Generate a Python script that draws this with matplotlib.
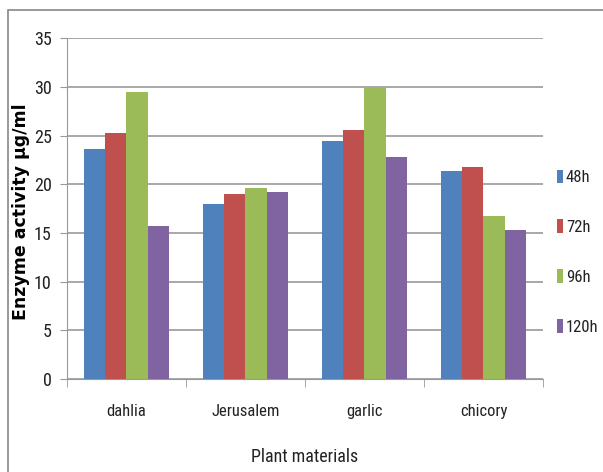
import numpy as np
import matplotlib.pyplot as plt
from matplotlib import font_manager
from matplotlib.font_manager import FontProperties
import matplotlib.patheffects as pe
from matplotlib.patches import Rectangle

# Data
plants = ['dahlia', 'Jerusalem', 'garlic', 'chicory']
series = ['48h', '72h', '96h', '120h']
v48 = [23.6, 18.0, 24.4, 21.4]
v72 = [25.3, 19.0, 25.6, 21.8]
v96 = [29.5, 19.6, 30.0, 16.7]
v120 = [15.7, 19.2, 22.8, 15.3]
colors = ['#4F81BD', '#C0504D', '#9BBB59', '#8064A2']

# pick a narrow font file to mimic the squeezed look
def rank(path):
    n = path.lower().split('/')[-1].replace('-', '').replace('_', '')
    order = ['liberationsansnarrowregular', 'robotocondensedregular',
             'opensanscondensedregular', 'notosanscondensed', 'dejavusanscondensed.ttf']
    for i, p in enumerate(order):
        if n.startswith(p):
            return i
    if any(s in n for s in ['light', 'thin']):
        return 50
    return 20

cands = [f for f in font_manager.findSystemFonts()
         if ('narrow' in f.lower() or 'condensed' in f.lower())
         and not any(s in f.lower().split('/')[-1] for s in ['bold', 'italic', 'oblique'])]
cands.sort(key=rank)
fontfile = cands[0] if cands else None
thicken = []
if fontfile and rank(fontfile) == 50:
    thicken = [pe.withStroke(linewidth=0.7, foreground='#222222')]

def fp(size):
    if fontfile:
        return FontProperties(fname=fontfile, size=size)
    return FontProperties(family='DejaVu Sans', size=size * 0.8)

fig = plt.figure(figsize=(6.03, 4.72), dpi=100)
ax = fig.add_axes([0.111, 0.197, 0.7895, 0.722])

# outer chart border
fig.patches.append(Rectangle((8 / 603, -0.1), 1.2, 1 - 10 / 472 + 0.1,
                             transform=fig.transFigure, fill=False,
                             edgecolor='#888888', lw=1.2))

x = np.arange(len(plants))
w = 0.18
for i, (vals, lab) in enumerate(zip([v48, v72, v96, v120], series)):
    ax.bar(x + (i - 1.5) * w, vals, w, color=colors[i], label=lab, zorder=3)

ax.set_ylim(0, 35)
ax.set_xlim(-0.5, 3.5)
ax.set_yticks(np.arange(0, 36, 5))
ax.yaxis.grid(True, color='#999999', lw=1.2, zorder=0)
ax.set_xticks(x)
ax.set_xticklabels(plants)
ax.tick_params(axis='x', length=0, pad=18)
ax.set_xticks(np.arange(-0.5, 4.0, 1), minor=True)
ax.tick_params(axis='x', which='minor', length=6, color='#999999')
ax.tick_params(axis='y', length=5, color='#999999', pad=6)

for s in ['top', 'right']:
    ax.spines[s].set_visible(False)
for s in ['left', 'bottom']:
    ax.spines[s].set_color('#999999')

ax.set_xlabel('Plant materials', fontproperties=fp(13), labelpad=21)
ax.set_ylabel('Enzyme activity µg/ml', fontsize=12.5, fontweight='bold',
              family=['DejaVu Sans'])
ax.yaxis.set_label_coords(-0.078, 0.49)

leg = ax.legend(loc='center left', bbox_to_anchor=(1.015, 0.372), frameon=False,
                prop=fp(12), handlelength=0.4, handleheight=0.9,
                handletextpad=0.15, labelspacing=2.05, borderpad=0.2,
                borderaxespad=0.2)

for t in ax.get_xticklabels():
    t.set_fontproperties(fp(12))
for t in ax.get_yticklabels():
    t.set_fontproperties(fp(13))
for t in ax.get_xticklabels() + ax.get_yticklabels() + leg.get_texts() + [ax.xaxis.label]:
    t.set_color('#222222')
    t.set_path_effects(thicken)

fig.savefig('out.png', dpi=100)
